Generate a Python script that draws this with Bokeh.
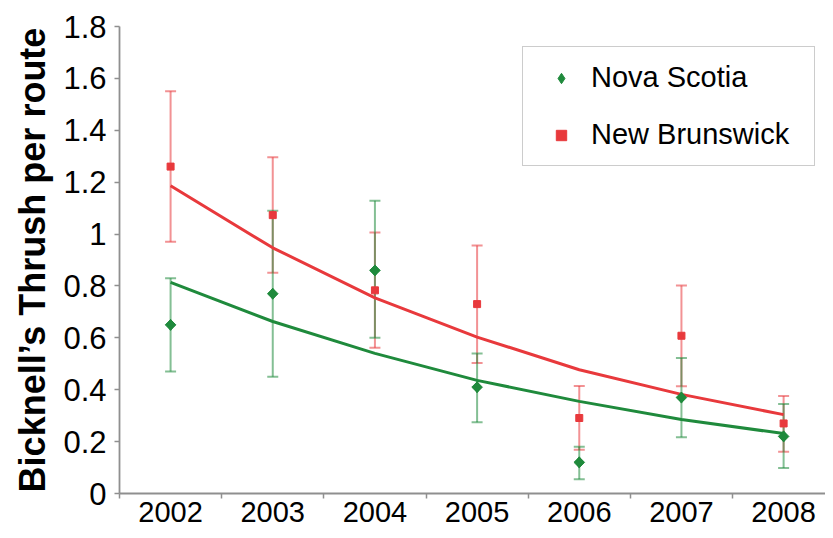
import math
from bokeh.plotting import figure
from bokeh.models import Range1d, FixedTicker, Legend, LegendItem, ColumnDataSource, Title
from bokeh.embed import file_html
from bokeh.resources import INLINE

# ---- data ----
years = [2002, 2003, 2004, 2005, 2006, 2007, 2008]
year_labels = ["2002", "2003", "2004", "2005", "2006", "2007", "2008"]
year_bounds = [2001.5, 2002.5, 2003.5, 2004.5, 2005.5, 2006.5, 2007.5, 2008.5]

ns_mean = [0.65, 0.77, 0.86, 0.41, 0.12, 0.37, 0.22]
ns_low = [0.47, 0.45, 0.60, 0.275, 0.055, 0.217, 0.098]
ns_high = [0.83, 1.09, 1.128, 0.54, 0.18, 0.522, 0.345]
ns_fit = [0.814, 0.663, 0.54, 0.436, 0.355, 0.285, 0.231]

nb_mean = [1.26, 1.073, 0.783, 0.73, 0.291, 0.608, 0.27]
nb_low = [0.97, 0.851, 0.562, 0.503, 0.169, 0.413, 0.161]
nb_high = [1.55, 1.296, 1.006, 0.956, 0.414, 0.802, 0.376]
nb_fit = [1.186, 0.947, 0.754, 0.603, 0.477, 0.382, 0.304]

y_ticks = [0, 0.2, 0.4, 0.6, 0.8, 1.0, 1.2, 1.4, 1.6, 1.8]
y_tick_labels = ["0", "0.2", "0.4", "0.6", "0.8", "1", "1.2", "1.4", "1.6", "1.8"]

series_names = ["Nova Scotia", "New Brunswick"]
y_title = "Bicknell\u2019s Thrush per route"

# ---- styling ----
GREEN = "#1f8a3c"
RED = "#e8393c"
AXIS = "#8f8f8f"
FONT = "Liberation Sans"

p = figure(width=825, height=530, output_backend="svg", toolbar_location=None,
           x_range=Range1d(2001.5, 2008.41), y_range=Range1d(0, 1.8),
           min_border_left=119, min_border_top=26, min_border_bottom=37, min_border_right=0)
p.outline_line_color = None
p.xgrid.visible = False
p.ygrid.visible = False
p.background_fill_color = "white"
p.border_fill_color = "white"

ns = ColumnDataSource(dict(x=years, m=ns_mean, lo=ns_low, hi=ns_high, fit=ns_fit))
nb = ColumnDataSource(dict(x=years, m=nb_mean, lo=nb_low, hi=nb_high, fit=nb_fit))

# error bars
for src, col in ((nb, RED), (ns, GREEN)):
    p.segment(x0="x", y0="lo", x1="x", y1="hi", source=src, line_color=col,
              line_alpha=0.55, line_width=2)
    p.scatter(x="x", y="lo", source=src, marker="dash", size=11, line_color=col,
              line_alpha=0.55, line_width=2)
    p.scatter(x="x", y="hi", source=src, marker="dash", size=11, line_color=col,
              line_alpha=0.55, line_width=2)

# fitted curves
p.line(x="x", y="fit", source=nb, line_color=RED, line_width=3)
p.line(x="x", y="fit", source=ns, line_color=GREEN, line_width=3)

# means
r_ns = p.scatter(x="x", y="m", source=ns, marker="diamond", size=11,
                 fill_color=GREEN, line_color=GREEN)
p.scatter(x="x", y="m", source=ns, marker="square", size=7.5, angle=math.pi / 4,
          fill_color=GREEN, line_color=GREEN)
r_nb = p.scatter(x="x", y="m", source=nb, marker="square", size=7,
                 fill_color=RED, line_color=RED)

# axes
xa = p.xaxis[0]
xa.ticker = FixedTicker(ticks=years, minor_ticks=year_bounds)
xa.major_label_overrides = {y: l for y, l in zip(years, year_labels)}
xa.major_tick_line_color = None
xa.minor_tick_line_color = AXIS
xa.minor_tick_line_width = 1.5
xa.minor_tick_out = 5
xa.minor_tick_in = 0
xa.axis_line_color = AXIS
xa.axis_line_width = 1.8
xa.major_label_text_font = FONT
xa.major_label_text_font_size = "29px"
xa.major_label_text_color = "black"
xa.major_label_standoff = 2

ya = p.yaxis[0]
ya.ticker = FixedTicker(ticks=y_ticks, minor_ticks=[])
ya.major_label_overrides = {t: l for t, l in zip(y_ticks, y_tick_labels)}
ya.major_tick_line_color = AXIS
ya.major_tick_line_width = 1.5
ya.major_tick_out = 5
ya.major_tick_in = 0
ya.minor_tick_line_color = None
ya.axis_line_color = AXIS
ya.axis_line_width = 1.8
ya.major_label_text_font = FONT
ya.major_label_text_font_size = "31px"
ya.major_label_text_color = "black"
ya.major_label_standoff = 8

title = Title(text=y_title, align="center", text_font=FONT, text_font_size="36px",
              text_font_style="bold", text_color="black", standoff=16)
p.add_layout(title, "left")

legend = Legend(items=[LegendItem(label=series_names[0], renderers=[r_ns]),
                       LegendItem(label=series_names[1], renderers=[r_nb])],
                location=(403, 327))
legend.label_text_font = FONT
legend.label_text_font_size = "29px"
legend.label_text_color = "black"
legend.glyph_width = 48
legend.glyph_height = 26
legend.label_height = 30
legend.label_width = 209
legend.label_standoff = 6
legend.padding = 14
legend.spacing = 24
legend.margin = 0
legend.border_line_color = "#9a9a9a"
legend.border_line_width = 1.5
legend.background_fill_color = "white"
p.add_layout(legend)

open("out.html", "w").write(file_html(p, INLINE))
